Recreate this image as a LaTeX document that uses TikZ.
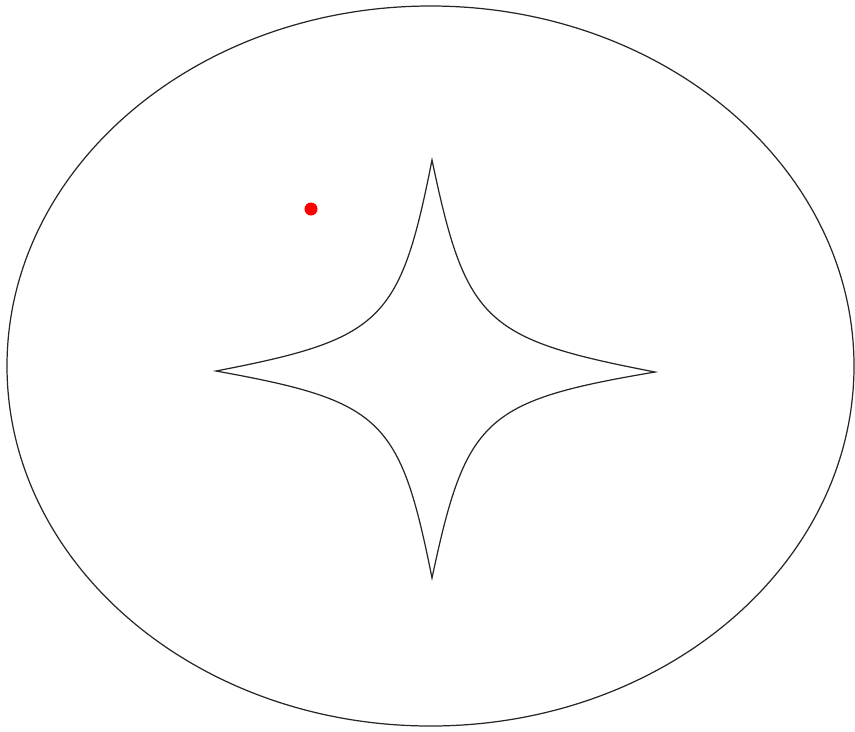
\documentclass[tikz,border=0pt]{standalone}
\usetikzlibrary{positioning}

\begin{document}
\begin{tikzpicture}[
        x=0.02cm, y=-0.02cm,
        outline/.style={draw=black!85, line width=0.7pt},
        spot/.style={circle, fill=red, inner sep=0pt, minimum size=0.26cm}
    ]
    \useasboundingbox (0,0) rectangle (855,731);
    % outer ellipse
    \draw[outline] (430.5,366) ellipse [x radius=423.5, y radius=360];
    % four-cusp star
    \coordinate (top) at (432,160);
    \coordinate (right) at (655,372);
    \coordinate (bottom) at (432,578);
    \coordinate (left) at (216,371);
    \draw[outline, line join=miter] (top)
        .. controls (466,322) and (484,339) .. (right)
        .. controls (484,401) and (466,418) .. (bottom)
        .. controls (400,418) and (382,401) .. (left)
        .. controls (382,339) and (400,322) .. (top) -- cycle;
    % red point
    \node[spot] (dot) at (311,209) {};
\end{tikzpicture}
\end{document}
